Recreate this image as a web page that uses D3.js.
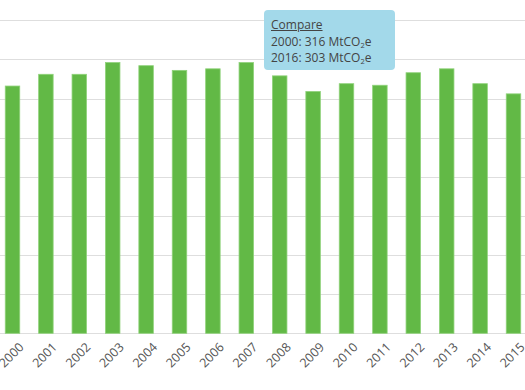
<!DOCTYPE html>
<html>
<head>
<meta charset="utf-8">
<script src="https://cdn.jsdelivr.net/npm/d3@7"></script>
<style>
  html, body { margin: 0; padding: 0; background: #fff; }
  svg { display: block; }
  .tip { position: absolute; left: 264px; top: 10px; width: 131px; height: 60px; background: #a3d9ea;
         border-radius: 4px; font-family: "Open Sans", Lato, sans-serif; font-size: 12px; color: #444;
         box-sizing: border-box; padding: 7px 0 0 7px; line-height: 16.5px; white-space: nowrap; }
  .tip u { text-decoration: underline; }
  .tip sub { font-size: 7.5px; vertical-align: -2px; line-height: 0; }
</style>
</head>
<body>
<div style="position:relative;width:525px;height:390px;">
<svg id="chart" width="525" height="390"></svg>
<div class="tip" id="tip"></div>
</div>
<script>
const years = ["2000","2001","2002","2003","2004","2005","2006","2007","2008","2009","2010","2011","2012","2013","2014","2015"];
const emissions = [316, 331, 331, 346, 342, 336, 338, 346, 329, 309, 319, 317, 333, 338, 319, 306];
const yTicks = [0, 50, 100, 150, 200, 250, 300, 350, 400];
const compareLabel = "Compare";
const compareRows = [["2000", 316], ["2016", 303]];

const svg = d3.select("#chart");
const x = d3.scaleBand().domain(years).range([-4.2, 530.2]).paddingInner(0.566).paddingOuter(0.283);
const y = d3.scaleLinear().domain([0, 400]).range([333.3, 20.3]);

svg.append("g").selectAll("line").data(yTicks).join("line")
  .attr("x1", 0).attr("x2", 525)
  .attr("y1", d => Math.round(y(d)) + 0.5).attr("y2", d => Math.round(y(d)) + 0.5)
  .attr("stroke", "#dedede").attr("stroke-width", 1);

svg.append("g").selectAll("rect").data(emissions).join("rect")
  .attr("x", (d, i) => x(years[i]))
  .attr("y", d => y(d))
  .attr("width", x.bandwidth())
  .attr("height", d => y(0) - y(d))
  .attr("fill", "#62b946")
  .attr("stroke", "#8fd27a")
  .attr("stroke-width", 0.8);

const xAxis = d3.axisBottom(x).tickSize(0).tickPadding(0);
const gx = svg.append("g").attr("transform", "translate(0,0)").call(xAxis);
gx.select(".domain").remove();
gx.selectAll(".tick").attr("transform", null);
gx.selectAll(".tick text")
  .attr("x", 0).attr("y", 0).attr("dy", 0)
  .attr("text-anchor", "end")
  .attr("font-family", "'Open Sans', Lato, sans-serif")
  .attr("font-size", 12.5)
  .attr("fill", "#555")
  .attr("transform", d => `translate(${x(d) + x.bandwidth() / 2 + 12},348) rotate(-45)`);

const tip = d3.select("#tip");
tip.append("div").append("u").text(compareLabel);
compareRows.forEach(r => {
  const row = tip.append("div");
  row.append("span").text(r[0] + ": " + r[1] + " MtCO");
  row.append("sub").text("2");
  row.append("span").text("e");
});
</script>
</body>
</html>
